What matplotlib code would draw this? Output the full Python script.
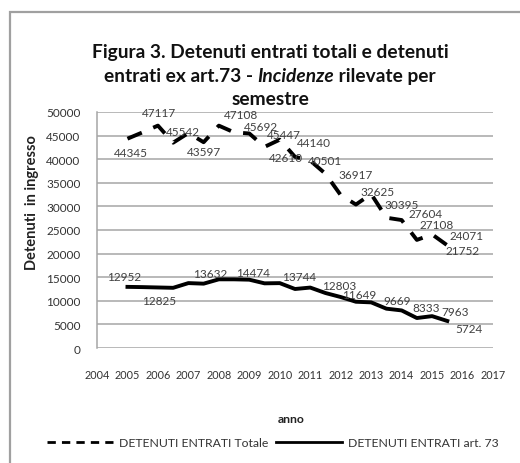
import matplotlib
matplotlib.use("Agg")
import matplotlib.pyplot as plt
from matplotlib.lines import Line2D
from matplotlib.patches import Rectangle

plt.rcParams["font.family"] = ["Lato", "DejaVu Sans"]

# semestri 2005 I ... 2015 II
semestri = [2005.0, 2005.5, 2006.0, 2006.5, 2007.0, 2007.5, 2008.0, 2008.5,
            2009.0, 2009.5, 2010.0, 2010.5, 2011.0, 2011.5, 2012.0, 2012.5,
            2013.0, 2013.5, 2014.0, 2014.5, 2015.0, 2015.5]
totale = [44345, 45700, 47117, 43500, 45542, 43597, 47108, 45692,
          45447, 42610, 44140, 40501, 39700, 36917, 32400, 30395,
          32625, 27604, 27108, 22900, 24071, 21752]
art73 = [12952, 12900, 12825, 12750, 13750, 13632, 14550, 14550,
         14474, 13700, 13744, 12500, 12803, 11649, 10800, 9800,
         9669, 8333, 7963, 6350, 6750, 5724]
anni = list(range(2004, 2018))
yticks = list(range(0, 50001, 5000))

# which points carry a value label, and where the label sits (pixels)
lab_tot = {0: (3, -14), 2: (1, 13), 4: (-5, 2), 5: (0, -9), 6: (22, 11),
           7: (27, 6), 8: (35, -1), 9: (21, -11), 10: (34, -3), 11: (30, -4),
           13: (30, -1), 15: (46, 0), 16: (6, 3), 17: (39, 4), 18: (35, -4),
           20: (34, -1), 21: (15, -5)}
lab_art = {0: (-3, 10), 2: (1, -13), 5: (7, 10), 8: (4, 7), 10: (19, 7),
           12: (29, 2), 13: (34, -1), 16: (26, 2), 17: (40, 1), 18: (53, -1),
           21: (22, -8)}

W, H = 520, 464
fig = plt.figure(figsize=(W / 100, H / 100), dpi=100)
ax = fig.add_axes([97 / W, 1 - 349 / H, 396 / W, 236 / H])

# chart frame
fig.patches.append(Rectangle((10 / W, -0.1), 1.2, 1 - 13 / H + 0.1,
                             transform=fig.transFigure, fill=False,
                             ec="#a0a0a0", lw=1.6))

ax.plot(semestri, totale, color="black", lw=2.8, dashes=(4.0, 3.2))
ax.plot(semestri, art73, color="black", lw=2.8)

for i, (dx, dy) in lab_tot.items():
    ax.annotate(str(totale[i]), (semestri[i], totale[i]), textcoords="offset pixels",
                xytext=(dx, dy), ha="center", va="center", fontsize=8.5, color="#404040")
for i, (dx, dy) in lab_art.items():
    ax.annotate(str(art73[i]), (semestri[i], art73[i]), textcoords="offset pixels",
                xytext=(dx, dy), ha="center", va="center", fontsize=8.5, color="#404040")

ax.set_xlim(2004, 2017)
ax.set_ylim(0, 50000)
ax.set_xticks(anni)
ax.set_xticklabels([str(a) for a in anni])
ax.set_yticks(yticks)
ax.grid(axis="y", color="#a6a6a6", lw=1.1)
ax.set_axisbelow(True)
for s in ["top", "right", "bottom"]:
    ax.spines[s].set_visible(False)
ax.spines["left"].set_color("#a6a6a6")
ax.spines["left"].set_linewidth(1.1)
ax.tick_params(axis="x", length=0, pad=15, labelsize=7.8, colors="#333333")
ax.tick_params(axis="y", length=0, pad=12, labelsize=8.5, colors="#333333")

ax.set_xlabel("anno", fontsize=8.8, fontweight="bold", color="#222222")
ax.xaxis.label.set_va("center")
ax.xaxis.set_label_coords(0.49, -0.30)
ax.set_ylabel("Detenuti  in ingresso", fontsize=10.5, fontweight="bold", color="#222222")
ax.yaxis.label.set_va("center")
ax.yaxis.set_label_coords(-0.164, 0.62)

# title, second line mixes upright and italic
tx = 270 / W
kw = dict(fontsize=13.8, fontweight="bold", color="#111111", va="baseline")
fig.text(tx, 1 - 58 / H, "Figura 3. Detenuti entrati totali e detenuti", ha="center", **kw)
fig.text(tx, 1 - 105 / H, "semestre", ha="center", **kw)
parts = [("entrati ex art.73 - ", "normal"), ("Incidenze", "italic"), (" rilevate per", "normal")]
texts = [fig.text(0, 1 - 82 / H, p, style=st, ha="left", **kw) for p, st in parts]
fig.canvas.draw()
r = fig.canvas.get_renderer()
widths = [t.get_window_extent(r).width for t in texts]
x0 = tx * W - sum(widths) / 2
for t, w in zip(texts, widths):
    t.set_x(x0 / W)
    x0 += w

# legend
h_tot = Line2D([], [], color="black", lw=2.0, dashes=(3.0, 2.2))
h_art = Line2D([], [], color="black", lw=2.0)
fig.legend([h_tot, h_art], ["DETENUTI ENTRATI Totale", "DETENUTI ENTRATI art. 73"],
           loc="center", bbox_to_anchor=(273 / W, 1 - 444 / H), ncol=2, frameon=False,
           fontsize=8.8, handlelength=5.4, columnspacing=0.6, handletextpad=0.5,
           labelcolor="#333333")

fig.savefig("out.png", dpi=100)
